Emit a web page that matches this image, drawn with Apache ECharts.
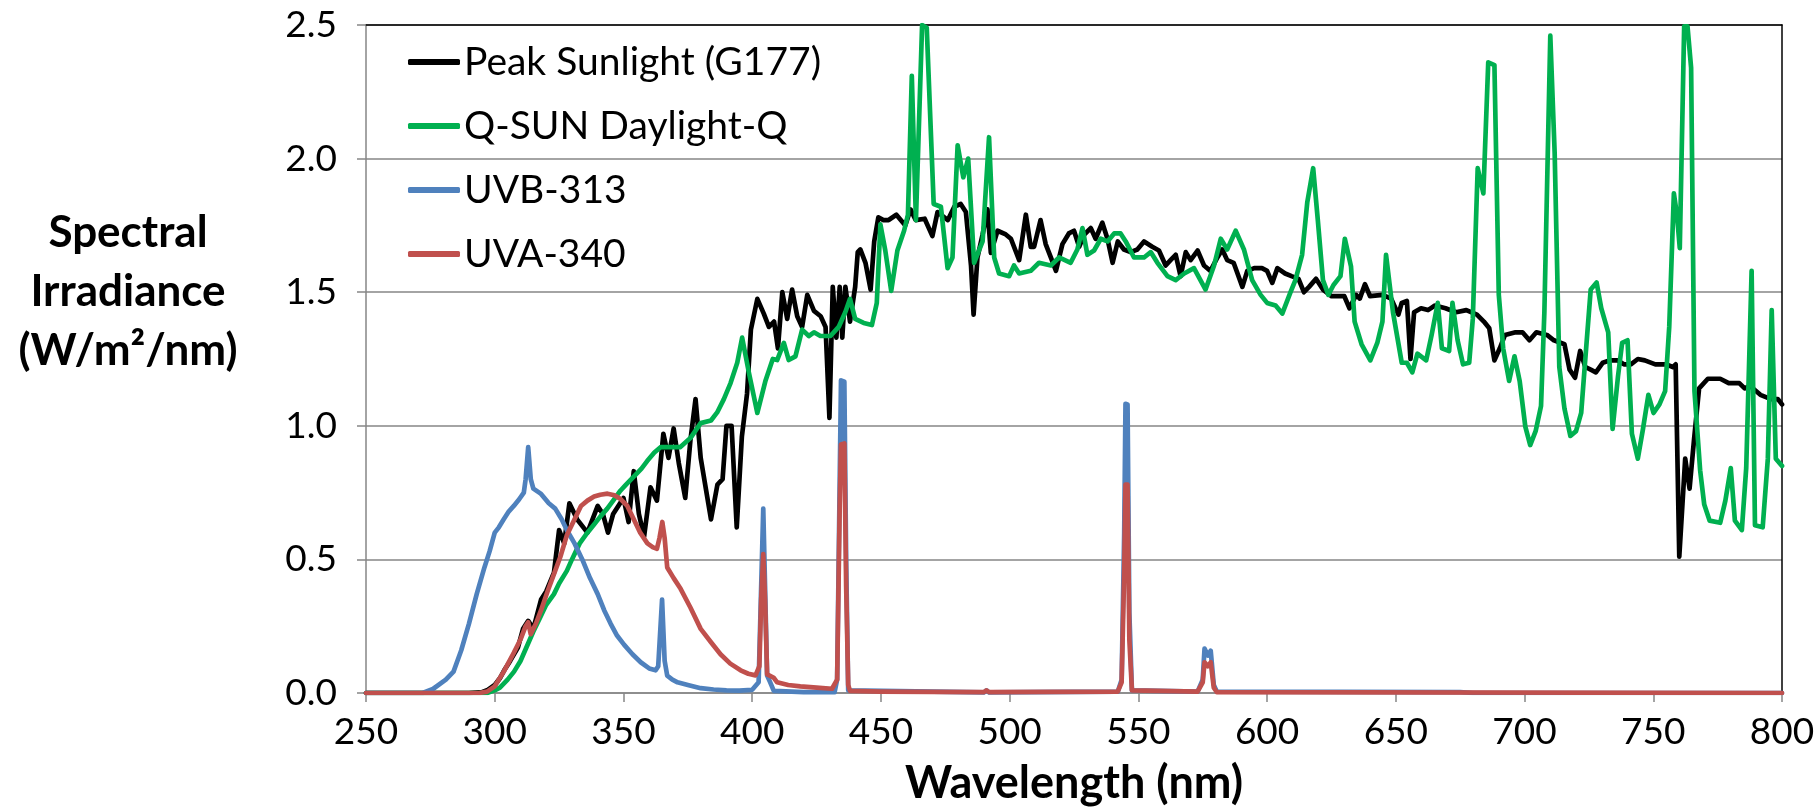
<!DOCTYPE html>
<html>
<head>
<meta charset="utf-8">
<title>Spectral Irradiance</title>
<script src="https://cdn.jsdelivr.net/npm/echarts@6/dist/echarts.min.js"></script>
<style>
  html, body { margin: 0; padding: 0; background: #fff; }
  #chart { width: 1818px; height: 811px; }
</style>
</head>
<body>
<div id="chart"></div>
<script>
// values (wavelength nm / W/m2/nm)
var xTicks = [250, 300, 350, 400, 450, 500, 550, 600, 650, 700, 750, 800];
var yTicks = [0, 0.5, 1.0, 1.5, 2.0, 2.5];

var sunWl = [250,290,295,297,300,302,304,306,309,311,313,315,318,320,323,325,327,329,332,336,340,342,344,346,350,352,354,356,358,360.5,363,365.5,367.5,369.5,371.5,374,376,378,380,384,386.5,388.5,390,392,394,396,398,399.5,402,404.5,406.5,408.5,410,411.7,413.6,415.5,417.5,419.4,421.4,424,426.6,428.5,430,431.3,432.7,434,435,436.2,438,440,441,442,444,446,447.4,449,451,453,456,459.5,461.5,463.5,467,470,472,476,478.5,481,483,485,486,487.5,489.5,491.4,492.7,495.3,498.5,500.5,503.7,506.3,508.2,509.5,512,514,516,518,520.5,523,525,527,529,531.5,533.4,536,538,540,542,544.4,547,549.6,552.2,555.4,558,560.6,562.5,564.5,566.4,568.4,570.3,573,575.5,578,580.7,582.6,584.5,587,590.4,592.3,595,598,600,602,604,607,609.5,612.2,614.3,616.3,619,621.7,625,630,632,634.6,636,638,640,644.8,648.2,651,652.3,654.3,655.7,657.1,659.8,662.5,665.2,669.3,673.4,677.4,681.5,684.2,686.3,688.3,690.4,692.4,696.5,699.2,701.9,704.6,708.7,711.4,715.5,717.5,719.6,721.6,723.6,725.7,727.7,730.4,733.2,736,738.6,741.3,744,746.7,750.8,755,757.6,758.7,760.1,762.4,764.1,765.8,767.8,771.2,776,779.3,783.4,785.5,787.5,791.6,795.7,798.4,800];
var sunVal = [0,0,0.003,0.01,0.03,0.055,0.09,0.12,0.17,0.24,0.27,0.24,0.35,0.38,0.45,0.61,0.56,0.71,0.65,0.6,0.7,0.67,0.6,0.67,0.73,0.64,0.83,0.67,0.585,0.77,0.72,0.97,0.88,0.99,0.86,0.73,0.945,1.1,0.88,0.65,0.78,0.8,1.0,1.0,0.62,0.96,1.12,1.36,1.475,1.42,1.37,1.39,1.29,1.5,1.4,1.51,1.41,1.37,1.49,1.43,1.41,1.37,1.03,1.52,1.33,1.52,1.33,1.52,1.39,1.52,1.65,1.66,1.61,1.51,1.69,1.78,1.77,1.77,1.79,1.75,1.81,1.77,1.775,1.71,1.8,1.77,1.82,1.83,1.8,1.6,1.416,1.63,1.716,1.81,1.647,1.73,1.716,1.7,1.62,1.79,1.67,1.67,1.77,1.68,1.63,1.58,1.68,1.72,1.73,1.67,1.716,1.74,1.7,1.76,1.7,1.61,1.69,1.66,1.65,1.66,1.69,1.67,1.656,1.6,1.62,1.64,1.56,1.65,1.62,1.656,1.6,1.58,1.63,1.66,1.62,1.61,1.52,1.58,1.59,1.59,1.58,1.535,1.59,1.57,1.56,1.55,1.5,1.52,1.55,1.51,1.485,1.485,1.44,1.49,1.476,1.53,1.485,1.49,1.476,1.416,1.46,1.467,1.25,1.425,1.44,1.433,1.45,1.44,1.425,1.433,1.416,1.39,1.365,1.245,1.29,1.34,1.35,1.35,1.32,1.35,1.34,1.32,1.305,1.21,1.18,1.28,1.22,1.21,1.2,1.236,1.245,1.245,1.23,1.23,1.25,1.245,1.23,1.23,1.22,1.23,0.51,0.877,0.765,0.945,1.14,1.176,1.176,1.16,1.16,1.14,1.15,1.116,1.1,1.1,1.08];

var qsunWl = [250,297,300,302,305,307.5,310,312.5,315,317.5,320,323,325,328,330,333,336,338.5,341,343.7,346,348.8,351,354,357,359.2,362,364.4,368,372,376,380,384,386.4,389,391.6,394.2,396.1,398.7,402,405.2,408,409.7,412.3,414.2,416.8,419.4,422,424,426.5,430.4,433.6,436.2,438,440,443.3,446.5,448.4,449.8,451.7,454,456.4,459,460.5,462,463.6,466,467.8,470.5,473.3,475.9,477.8,479.8,482,483.9,486.2,489.5,492,494,495.9,499.8,501.7,503.7,508.2,511.4,516,519.2,523.7,526.3,528.3,530.2,532.8,535.4,538,540.6,543.1,545.1,548.3,552.2,554.8,557.4,561.3,564.5,567.8,571.6,576.1,579.4,582,584.5,587.8,591,594.2,597.5,600,603.3,605.9,609.1,611,613.6,615.6,617.9,619.7,621.7,623.8,625.8,628.5,630.2,632.6,634,636.7,640.1,642.8,644.8,646.2,648.9,652.3,654.3,656.4,658.4,661.8,663.9,666.3,667.9,670.7,672,674,676.1,678.5,679.9,681.8,684,685.9,688.3,690,691.7,694,696.1,698.1,700.3,702.2,704.3,706.4,707.7,710,711.7,713.5,715.5,717.8,720,722,723.6,725.7,728,729.8,732.5,734.2,736.3,737.9,740,741.7,744,746,748.1,750.1,752.4,754.6,756.2,758,759.2,760.3,762,763.3,764.7,766,768.2,769.8,771.9,776,778,780.1,781.7,784.4,786.1,788.2,789.5,792.5,794.5,796,797.6,800];
var qsunVal = [0,0,0.01,0.02,0.05,0.08,0.12,0.175,0.23,0.28,0.33,0.37,0.41,0.457,0.5,0.56,0.6,0.63,0.66,0.69,0.72,0.757,0.78,0.81,0.84,0.868,0.9,0.92,0.92,0.92,0.954,1.01,1.02,1.05,1.1,1.16,1.236,1.33,1.2,1.048,1.17,1.25,1.246,1.31,1.246,1.26,1.36,1.336,1.35,1.336,1.336,1.37,1.426,1.475,1.4,1.385,1.377,1.46,1.754,1.656,1.505,1.656,1.73,1.79,2.31,1.77,2.5,2.49,1.83,1.82,1.59,1.63,2.05,1.93,2.0,1.61,1.69,2.08,1.63,1.57,1.56,1.6,1.57,1.58,1.61,1.6,1.63,1.61,1.66,1.74,1.64,1.656,1.7,1.69,1.72,1.72,1.69,1.63,1.63,1.65,1.61,1.56,1.545,1.57,1.59,1.51,1.6,1.7,1.66,1.73,1.66,1.545,1.49,1.46,1.45,1.42,1.5,1.545,1.64,1.836,1.964,1.77,1.545,1.49,1.527,1.56,1.7,1.596,1.39,1.305,1.245,1.31,1.39,1.64,1.425,1.236,1.236,1.2,1.27,1.245,1.34,1.46,1.29,1.28,1.46,1.32,1.23,1.236,1.4,1.964,1.87,2.36,2.35,1.49,1.29,1.168,1.26,1.168,0.997,0.928,0.98,1.074,1.425,2.46,2.02,1.22,1.065,0.962,0.98,1.048,1.25,1.51,1.536,1.44,1.35,0.988,1.185,1.31,1.32,0.97,0.877,0.988,1.116,1.048,1.08,1.13,1.37,1.87,1.79,1.665,2.495,2.495,2.34,1.13,0.834,0.705,0.645,0.637,0.72,0.842,0.645,0.61,0.842,1.58,0.628,0.62,0.877,1.433,0.877,0.85];

var uvbWl = [250,272,276,281,284,287,290,293,296,298,300,301.6,303.5,305.5,307.4,309.5,311.3,312,313,314,315,318,321,323.5,326,328,331,334,337,340,342.5,345,347.5,350.3,353.5,356.7,360,362.5,363.5,365,366,367,369,371,375,380,385,390,395,400,402.5,403.5,404.3,405,405.8,407,408.4,420,432,433,434,434.5,435.8,436.5,437.3,490,491,492,542,543.5,544.5,545,545.8,546.5,547.5,573,575,575.7,577,578.1,579.3,580.5,675,680,800];
var uvbVal = [0,0,0.015,0.05,0.08,0.16,0.26,0.37,0.47,0.53,0.6,0.62,0.65,0.68,0.7,0.725,0.75,0.8,0.92,0.8,0.765,0.745,0.71,0.69,0.65,0.61,0.56,0.5,0.43,0.37,0.31,0.26,0.215,0.18,0.145,0.115,0.092,0.085,0.1,0.35,0.12,0.065,0.05,0.04,0.03,0.018,0.013,0.01,0.009,0.012,0.04,0.4,0.69,0.4,0.065,0.04,0.008,0.003,0.003,0.05,0.8,1.17,1.165,0.5,0.01,0.002,0.01,0.002,0.005,0.05,0.6,1.082,1.08,0.3,0.01,0.005,0.05,0.166,0.14,0.158,0.03,0.005,0.003,0,0];

var uvaWl = [250,294,297,300,303.5,307.4,310,312,313,314,316,318,320.5,323,325.5,328,330.5,333.5,336,338.6,341,343.8,346.5,349,351.5,354,356.5,359.3,361.5,363,364,365.1,366,367,369.5,372.2,376,380,384,387.7,391.5,395.5,398.5,401.3,402.8,403.5,404.3,405,405.8,408.4,409.7,414,418.7,425,431,433,434,434.5,435.8,436.5,437.3,438,450,490,491,492,542,543.5,544.5,545,545.8,546.5,547.5,573,575,575.7,577,578.1,579.3,580.5,800];
var uvaVal = [0,0,0.005,0.025,0.08,0.15,0.2,0.25,0.265,0.22,0.26,0.31,0.38,0.445,0.51,0.59,0.64,0.7,0.72,0.735,0.742,0.746,0.74,0.725,0.7,0.65,0.6,0.56,0.545,0.54,0.58,0.64,0.58,0.47,0.43,0.39,0.32,0.24,0.19,0.145,0.11,0.085,0.072,0.066,0.1,0.35,0.52,0.35,0.07,0.057,0.04,0.03,0.025,0.02,0.016,0.05,0.7,0.93,0.934,0.4,0.03,0.008,0.005,0.003,0.01,0.003,0.005,0.04,0.45,0.78,0.78,0.2,0.01,0.005,0.04,0.115,0.1,0.115,0.02,0.003,0];

function pairs(xs, ys) {
  var out = [];
  for (var i = 0; i < xs.length; i++) out.push([xs[i], ys[i]]);
  return out;
}

var FONT = 'Lato';
var GRAY = '#868686';

var chart = echarts.init(document.getElementById('chart'), null, { renderer: 'canvas' });

function line(name, color, xs, ys) {
  return {
    name: name,
    type: 'line',
    data: pairs(xs, ys),
    showSymbol: false,
    symbol: 'none',
    clip: true,
    lineStyle: { color: color, width: 4.7, cap: 'round', join: 'round' },
    itemStyle: { color: color },
    emphasis: { disabled: true }
  };
}

var option = {
  animation: false,
  backgroundColor: '#fff',
  grid: { left: 366, right: 36, top: 25, bottom: 116 },
  legend: {
    orient: 'vertical',
    left: 408,
    top: 42,
    padding: 0,
    icon: 'roundRect',
    itemWidth: 52,
    itemHeight: 6,
    itemGap: 24,
    textStyle: { fontFamily: FONT, fontSize: 39, lineHeight: 40, color: '#000', padding: [0, 0, 0, -1] },
    data: ['Peak Sunlight (G177)', 'Q-SUN Daylight-Q', 'UVB-313', 'UVA-340']
  },
  xAxis: [{
    type: 'value',
    min: xTicks[0],
    max: xTicks[xTicks.length - 1],
    interval: 50,
    name: 'Wavelength (nm)',
    nameLocation: 'middle',
    nameGap: 68,
    nameTextStyle: { fontFamily: FONT, fontSize: 45, fontWeight: 'bold', color: '#000' },
    axisLine: { show: true, lineStyle: { color: GRAY, width: 1.5 } },
    axisTick: { show: true, length: 9, lineStyle: { color: GRAY, width: 1.5 } },
    axisLabel: { fontFamily: FONT, fontSize: 37, color: '#000', margin: 21 },
    splitLine: { show: false }
  }, {
    type: 'value', position: 'top',
    min: xTicks[0], max: xTicks[xTicks.length - 1],
    axisLine: { show: true, onZero: false, lineStyle: { color: '#000', width: 1.5 } },
    axisTick: { show: false }, axisLabel: { show: false }, splitLine: { show: false }
  }],
  yAxis: [{
    type: 'value',
    min: yTicks[0],
    max: yTicks[yTicks.length - 1],
    interval: 0.5,
    axisLine: { show: true, lineStyle: { color: GRAY, width: 1.5 } },
    axisTick: { show: true, length: 9, lineStyle: { color: GRAY, width: 1.5 } },
    axisLabel: {
      fontFamily: FONT, fontSize: 37, color: '#000', margin: 29,
      formatter: function (v) { return v.toFixed(1); }
    },
    splitLine: { show: true, lineStyle: { color: GRAY, width: 1.5 } }
  }, {
    type: 'value', position: 'right',
    min: yTicks[0], max: yTicks[yTicks.length - 1],
    axisLine: { show: true, onZero: false, lineStyle: { color: '#000', width: 1.5 } },
    axisTick: { show: false }, axisLabel: { show: false }, splitLine: { show: false }
  }],
  graphic: [{
    type: 'text',
    x: 128,
    y: 292,
    style: {
      text: 'Spectral\nIrradiance\n(W/m²/nm)',
      align: 'center',
      verticalAlign: 'middle',
      fontFamily: FONT,
      fontSize: 44,
      fontWeight: 'bold',
      lineHeight: 59,
      fill: '#000'
    }
  }],
  series: [
    line('Peak Sunlight (G177)', '#000000', sunWl, sunVal),
    line('Q-SUN Daylight-Q', '#00B050', qsunWl, qsunVal),
    line('UVB-313', '#4F81BD', uvbWl, uvbVal),
    line('UVA-340', '#C0504D', uvaWl, uvaVal)
  ]
};

chart.setOption(option);
</script>
</body>
</html>
